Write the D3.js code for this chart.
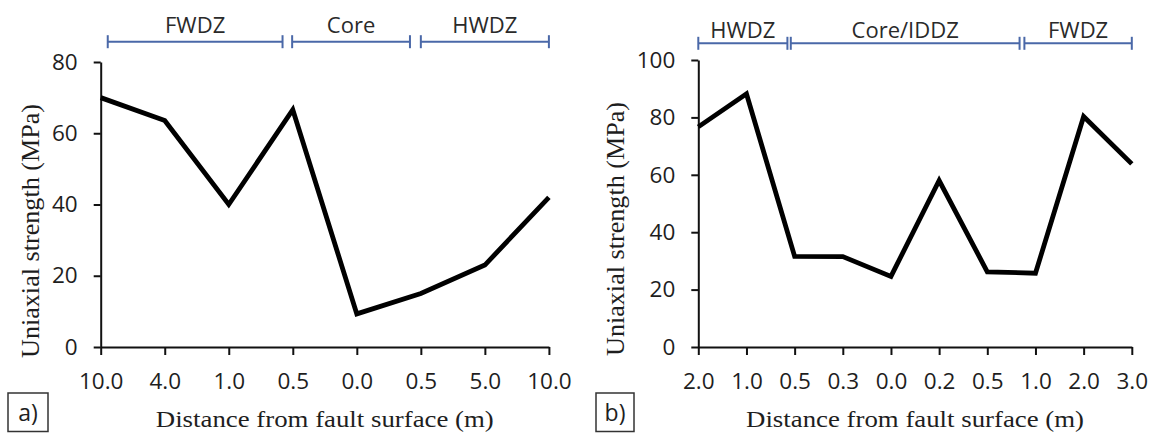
<!DOCTYPE html>
<html>
<head>
<meta charset="utf-8">
<script src="https://cdn.jsdelivr.net/npm/d3@7/dist/d3.min.js"></script>
<style>
body{margin:0;background:#fff;}
</style>
</head>
<body>
<div class="chart"></div>
<script>
/* ======== data ======== */
var xLabelsA = ["10.0","4.0","1.0","0.5","0.0","0.5","5.0","10.0"];
var valuesA = [70, 63.6, 40, 66.6, 9.3, 15, 23, 42];
var zoneNamesA = ["FWDZ","Core","HWDZ"];
var zoneStartA = [0.11, 2.99, 5.0];   // in category index units
var zoneEndA = [2.84, 4.83, 7.0];
var yTicksA = [0, 20, 40, 60, 80];

var xLabelsB = ["2.0","1.0","0.5","0.3","0.0","0.2","0.5","1.0","2.0","3.0"];
var valuesB = [76.7, 88.2, 31.6, 31.5, 24.6, 58, 26.2, 25.7, 80.3, 63.8];
var zoneNamesB = ["HWDZ","Core/IDDZ","FWDZ"];
var zoneStartB = [0, 1.92, 6.77];
var zoneEndB = [1.85, 6.67, 9.0];
var yTicksB = [0, 20, 40, 60, 80, 100];

var yTitle = "Uniaxial strength (MPa)";
var xTitle = "Distance from fault surface (m)";

var width = 1152, height = 433;
var svg = d3.select('.chart').append('svg')
	.attr('width', width)
	.attr('height', height)
	.style('display', 'block');

var sansFont = "'Open Sans', sans-serif";
var serifFont = "'Liberation Serif', 'DejaVu Serif', serif";
var zoneColor = '#4a68a8';
var axisColor = '#111';

function drawPanel(p){
	var g = svg.append('g');
	var n = p.labels.length;
	var x = d3.scaleLinear().domain([0, n-1]).range([p.left, p.right]);
	var y = d3.scaleLinear().domain([0, p.yMax]).range([p.bottom, p.top]);

	// x axis
	var xAxis = d3.axisBottom(x)
		.tickValues(d3.range(n))
		.tickFormat(function(i){ return p.labels[i]; })
		.tickSize(8).tickSizeOuter(0).tickPadding(18);
	var gx = g.append('g').attr('transform', 'translate(0,' + p.bottom + ')').call(xAxis);

	// y axis
	var yAxis = d3.axisLeft(y)
		.tickValues(p.yTicks)
		.tickSize(7).tickSizeOuter(0).tickPadding(16);
	var gy = g.append('g').attr('transform', 'translate(' + p.left + ',0)').call(yAxis);

	[gx, gy].forEach(function(a){
		a.select('.domain').attr('stroke', axisColor).attr('stroke-width', 2);
		a.selectAll('.tick line').attr('stroke', axisColor).attr('stroke-width', 2);
		a.selectAll('.tick text')
			.attr('fill', '#1e1e1e')
			.attr('font-size', 22.5)
			.attr('font-family', sansFont);
	});

	// data line
	var line = d3.line()
		.x(function(d, i){ return x(i); })
		.y(function(d){ return y(d); });
	g.append('path')
		.datum(p.values)
		.attr('d', line)
		.attr('fill', 'none')
		.attr('stroke', '#000')
		.attr('stroke-width', 4.8)
		.attr('stroke-linejoin', 'miter')
		.attr('stroke-miterlimit', 10);

	// zone brackets
	for(var k = 0; k < p.zoneNames.length; k++){
		var x0 = x(p.zoneStart[k]), x1 = x(p.zoneEnd[k]);
		var zg = g.append('g');
		zg.append('line')
			.attr('x1', x0).attr('x2', x1)
			.attr('y1', p.zoneY).attr('y2', p.zoneY)
			.attr('stroke', zoneColor).attr('stroke-width', 2);
		[x0, x1].forEach(function(xx){
			zg.append('line')
				.attr('x1', xx).attr('x2', xx)
				.attr('y1', p.zoneY - 6.5).attr('y2', p.zoneY + 6.5)
				.attr('stroke', zoneColor).attr('stroke-width', 2);
		});
		zg.append('text')
			.attr('x', (x0 + x1)/2)
			.attr('y', p.zoneLabelY)
			.attr('text-anchor', 'middle')
			.attr('font-size', 22)
			.attr('font-family', sansFont)
			.attr('fill', '#2a2a2a')
			.text(p.zoneNames[k]);
	}

	// axis titles
	g.append('text')
		.attr('x', (p.left + p.right)/2)
		.attr('y', 427)
		.attr('text-anchor', 'middle')
		.attr('font-size', 24)
		.attr('font-family', serifFont)
		.attr('fill', '#1e1e1e')
		.attr('textLength', 338)
		.attr('lengthAdjust', 'spacingAndGlyphs')
		.text(xTitle);
	g.append('text')
		.attr('transform', 'translate(' + p.yTitleX + ',' + p.yTitleY + ') rotate(-90)')
		.attr('text-anchor', 'middle')
		.attr('font-size', 25)
		.attr('font-family', serifFont)
		.attr('fill', '#1e1e1e')
		.attr('textLength', 254)
		.attr('lengthAdjust', 'spacingAndGlyphs')
		.text(yTitle);

	// panel letter box
	g.append('rect')
		.attr('x', p.boxX).attr('y', 393)
		.attr('width', p.boxW).attr('height', 38.5)
		.attr('fill', 'none')
		.attr('stroke', '#333')
		.attr('stroke-width', 1.5);
	g.append('text')
		.attr('x', p.boxX + p.boxW/2)
		.attr('y', 421)
		.attr('text-anchor', 'middle')
		.attr('font-size', 23)
		.attr('font-family', sansFont)
		.attr('fill', '#1e1e1e')
		.text(p.letter);
}

drawPanel({
	labels: xLabelsA, values: valuesA, yTicks: yTicksA, yMax: 80,
	zoneNames: zoneNamesA, zoneStart: zoneStartA, zoneEnd: zoneEndA,
	left: 100.7, right: 548.9, top: 62, bottom: 347, zoneY: 41.7, zoneLabelY: 33.3,
	yTitleX: 39, yTitleY: 231, boxX: 8, boxW: 40, letter: 'a)'
});
drawPanel({
	labels: xLabelsB, values: valuesB, yTicks: yTicksB, yMax: 100,
	zoneNames: zoneNamesB, zoneStart: zoneStartB, zoneEnd: zoneEndB,
	left: 698.3, right: 1131.8, top: 60, bottom: 347, zoneY: 43.3, zoneLabelY: 38.3,
	yTitleX: 624, yTitleY: 229, boxX: 596, boxW: 38, letter: 'b)'
});
</script>
</body>
</html>
